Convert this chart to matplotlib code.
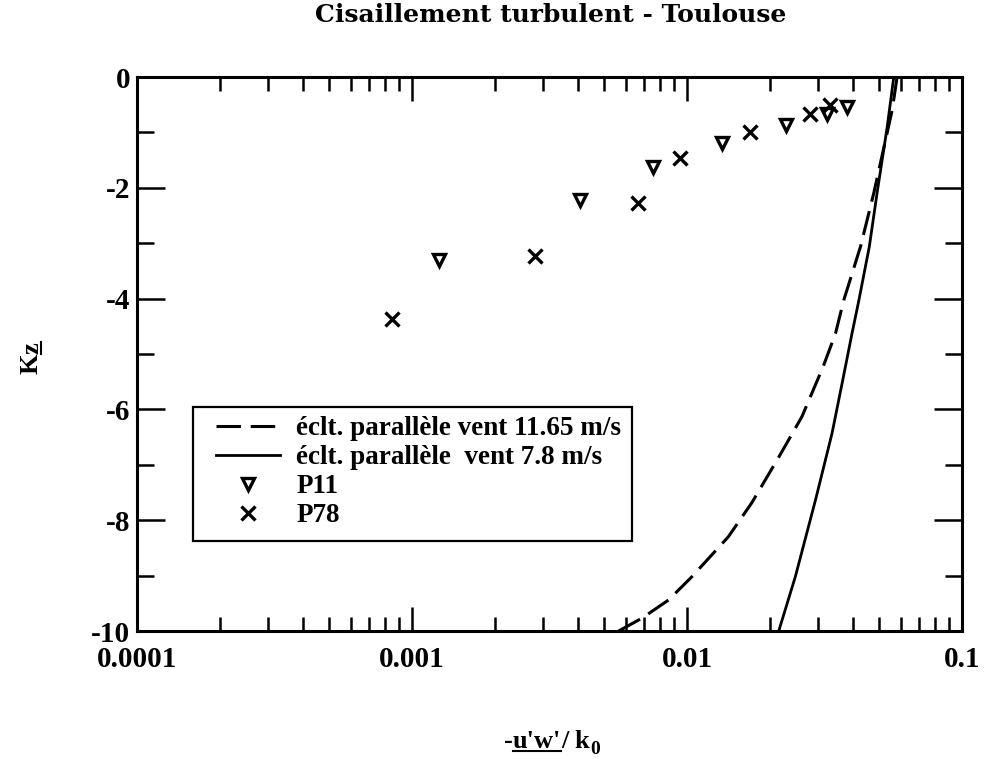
import matplotlib
matplotlib.use('Agg')
import matplotlib.pyplot as plt
from matplotlib.lines import Line2D
from matplotlib.patches import Rectangle
from matplotlib.ticker import LogLocator, NullFormatter, FixedLocator, MultipleLocator

plt.rcParams['axes.unicode_minus'] = False
plt.rcParams['font.family'] = ['Liberation Serif', 'DejaVu Serif']

# ---- data ----
p11_x = [0.00125, 0.00409, 0.00750, 0.0134, 0.0229, 0.0323, 0.0382]
p11_z = [-3.30, -2.22, -1.62, -1.19, -0.87, -0.67, -0.54]
p78_x = [0.000843, 0.00280, 0.00662, 0.00945, 0.0170, 0.0281, 0.0332]
p78_z = [-4.36, -3.23, -2.27, -1.46, -0.99, -0.67, -0.51]
v1165_x = [0.00564, 0.00685, 0.00857, 0.01042, 0.01413, 0.01718, 0.02163, 0.02618,
           0.03126, 0.03467, 0.03715, 0.04276, 0.04775, 0.05572, 0.05808]
v1165_z = [-10, -9.77, -9.44, -9.02, -8.30, -7.69, -6.85, -6.13,
           -5.23, -4.63, -4.03, -3.06, -2.10, -0.60, 0]
v78_x = [0.02156, 0.02477, 0.02931, 0.03369, 0.03664, 0.03981, 0.04217,
         0.04603, 0.04909, 0.05346, 0.05649]
v78_z = [-10, -9.02, -7.64, -6.43, -5.53, -4.63, -4.03,
         -3.06, -2.10, -0.90, 0]
x_ticks = [1e-4, 1e-3, 1e-2, 1e-1]
x_tick_labels = ['0.0001', '0.001', '0.01', '0.1']
y_ticks = [-10, -8, -6, -4, -2, 0]
y_tick_labels = ['-10', '-8', '-6', '-4', '-2', '0']
labels = ['éclt. parallèle vent 11.65 m/s', 'éclt. parallèle  vent 7.8 m/s', 'P11', 'P78']
title = 'Cisaillement turbulent - Toulouse'

W, H = 985, 759
fig = plt.figure(figsize=(W / 100, H / 100), dpi=100)
L, R, T, B = 137, 962, 77, 631
ax = fig.add_axes([L / W, 1 - B / H, (R - L) / W, (B - T) / H])

ax.set_xscale('log')
ax.plot(v1165_x, v1165_z, color='black', lw=2.2, dashes=(8, 3.2), label=labels[0])
ax.plot(v78_x, v78_z, color='black', lw=2.0, label=labels[1])
ax.plot(p11_x, p11_z, ls='none', marker='v', ms=9, mfc='white', mec='black', mew=2.4, label=labels[2])
ax.plot(p78_x, p78_z, ls='none', marker='x', ms=10, mec='black', mew=2.4, label=labels[3])

ax.set_xlim(1e-4, 1e-1)
ax.set_ylim(-10, 0)
ax.xaxis.set_major_locator(FixedLocator(x_ticks))
ax.set_xticklabels(x_tick_labels)
ax.xaxis.set_minor_locator(LogLocator(base=10, subs=[2, 3, 4, 5, 6, 7, 8, 9], numticks=20))
ax.xaxis.set_minor_formatter(NullFormatter())
ax.yaxis.set_major_locator(FixedLocator(y_ticks))
ax.set_yticklabels(y_tick_labels)
ax.yaxis.set_minor_locator(MultipleLocator(1))

ax.tick_params(which='both', direction='in', top=True, right=True, width=1.8, color='black')
ax.tick_params(axis='x', which='major', length=17, pad=11)
ax.tick_params(axis='x', which='minor', length=10)
ax.tick_params(axis='y', which='major', length=20, pad=5)
ax.tick_params(axis='y', which='minor', length=12)
for lab in ax.get_xticklabels() + ax.get_yticklabels():
    lab.set_fontfamily('Liberation Serif')
    lab.set_fontweight('bold')
    lab.set_fontsize(21)
for s in ax.spines.values():
    s.set_linewidth(2.2)

# legend: own frame + frameless legend
lx0, ly0, lx1, ly1 = 193, 407, 632, 541
ax.add_patch(Rectangle(((lx0 - L) / (R - L), (B - ly1) / (B - T)),
                       (lx1 - lx0) / (R - L), (ly1 - ly0) / (B - T),
                       transform=ax.transAxes, facecolor='white', edgecolor='black',
                       lw=1.6, zorder=4))
leg = ax.legend(loc='upper left', bbox_to_anchor=((216 - L) / (R - L), (B - 416) / (B - T)),
                frameon=False, borderaxespad=0, borderpad=0,
                prop=dict(family='Liberation Serif', weight='bold', size=19.5),
                handlelength=2.35, handletextpad=0.62, labelspacing=0.15)
leg.set_zorder(5)

# title
fig.text(551 / W, 1 - 15 / H, title, ha='center', va='center',
         family='DejaVu Serif', weight='bold', size=18)

# x label with underline and subscript
r = fig.canvas.get_renderer()
fs = dict(family='Liberation Serif', weight='bold', size=19)
fsub = dict(family='Liberation Serif', weight='bold', size=14)


def tw(s, **kw):
    t = fig.text(0, 0, s, **kw)
    bb = t.get_window_extent(renderer=r)
    t.remove()
    return bb.width


parts = ["-", "u'w'", "/ k"]
ws = [tw(p, **fs) for p in parts]
wsub = tw("0", **fsub)
total = sum(ws) + wsub
x = 552 - total / 2
base = 11
xs = []
for p, w in zip(parts, ws):
    fig.text(x / W, base / H, p, ha='left', va='baseline', **fs)
    xs.append((x, x + w))
    x += w
fig.text(x / W, (base - 6) / H, "0", ha='left', va='baseline', **fsub)
u0, u1 = xs[1]
fig.add_artist(Line2D([u0 / W, u1 / W], [(base - 3) / H, (base - 3) / H],
                      transform=fig.transFigure, color='black', lw=1.5))

# y label "Kz" with z underlined (rotated)
fy = dict(family='Liberation Serif', weight='bold', size=19)
wK = tw("K", **fy)
wz = tw("z", **fy)
bx = 38
y0 = 401 - (wK + wz) / 2
fig.text(bx / W, y0 / H, "K", rotation=90, rotation_mode='anchor', ha='left', va='baseline', **fy)
fig.text(bx / W, (y0 + wK) / H, "z", rotation=90, rotation_mode='anchor', ha='left', va='baseline', **fy)
fig.add_artist(Line2D([(bx + 3) / W, (bx + 3) / W], [(y0 + wK) / H, (y0 + wK + wz) / H],
                      transform=fig.transFigure, color='black', lw=1.5))

fig.savefig('out.png', dpi=100)
